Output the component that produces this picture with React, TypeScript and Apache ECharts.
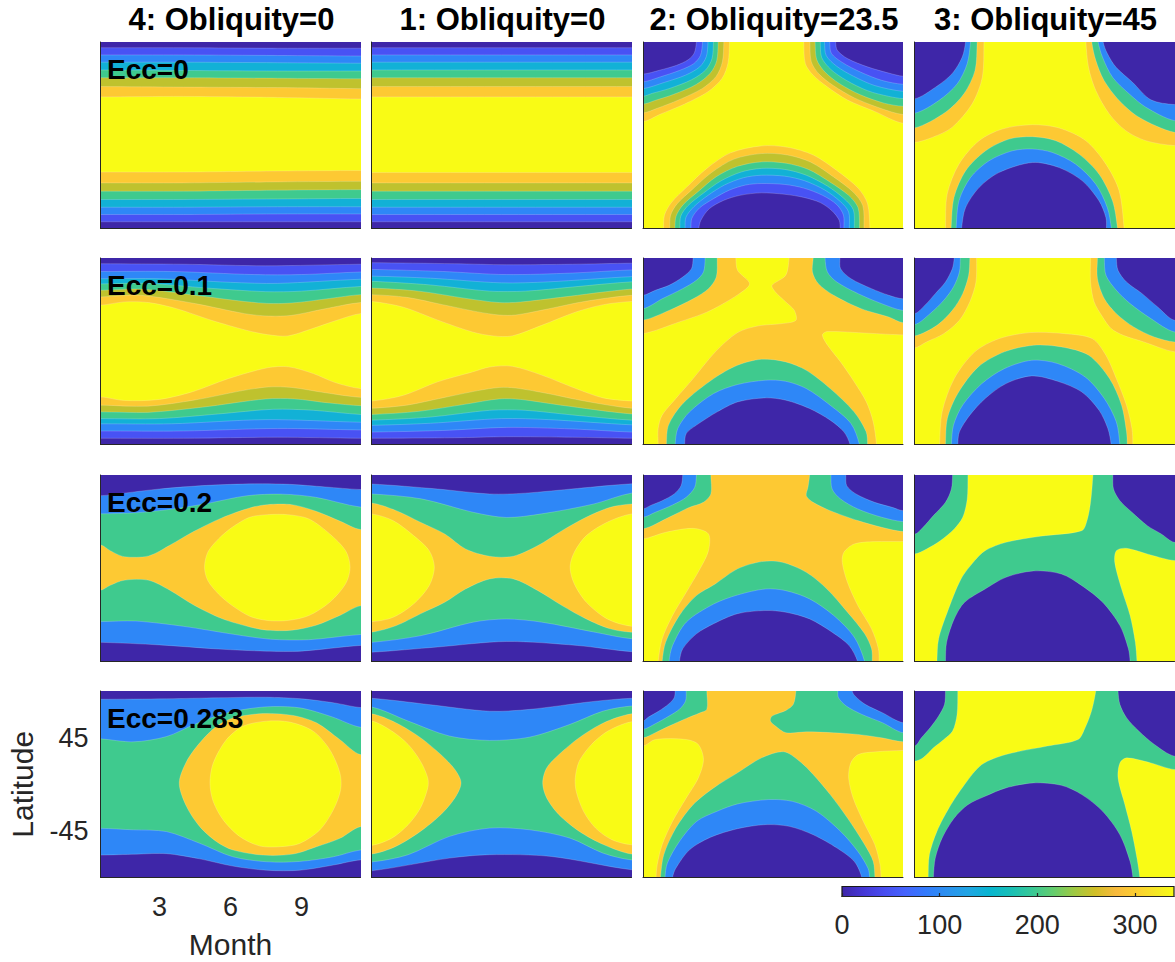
import React, { useEffect, useRef } from "react";
import * as echarts from "echarts";

type P = [number, number];

// ---------------- texts and ticks ----------------
const TITLES = ["4: Obliquity=0", "1: Obliquity=0", "2: Obliquity=23.5", "3: Obliquity=45"];
const ROW_LABELS = ["Ecc=0", "Ecc=0.1", "Ecc=0.2", "Ecc=0.283"];
const MONTH_TICKS = [3, 6, 9];
const LAT_TICKS = [45, -45];
const MONTH_RANGE: P = [0.5, 11.5];
const LAT_RANGE: P = [-90, 90];
const CBAR_RANGE: P = [0, 340];
const CBAR_STEP = 100;

// contour level -> fill colour (parula, caxis 0..340)
const LEVEL_COLORS: Record<number, string> = {
  0: "#3e26a8", 50: "#4852f4", 100: "#2e87f7", 150: "#12b1d6", 200: "#3fca8e",
  250: "#bfc22e", 300: "#fdc933", 350: "#f9fb15", 400: "#f9fb15",
};
const PARULA_STOPS: [number, string][] = [
  [0, "#3e26a8"], [0.0635, "#4537d5"], [0.127, "#484df0"], [0.19, "#4563fd"], [0.254, "#327bfc"],
  [0.317, "#2b91ef"], [0.381, "#20a5e3"], [0.444, "#08b5d0"], [0.508, "#19bfb6"], [0.571, "#37c897"],
  [0.635, "#63cd6f"], [0.698, "#9dc943"], [0.762, "#d1bf27"], [0.825, "#f8ba3d"], [0.889, "#fccf30"],
  [0.952, "#f5e924"], [1, "#f9fb15"],
];

// ---------------- contour boundaries [month, latitude] ----------------
// Row 1, col 1 (Ecc=0, model 4): upper / lower edges of each superlevel band
const r1c1_t50: P[] = [[0.5, 84.5], [4, 84.5], [8, 84], [11.5, 84]];
const r1c1_t100: P[] = [[0.5, 77.5], [4, 77.5], [8, 77], [11.5, 76.5]];
const r1c1_t150: P[] = [[0.5, 70.5], [4, 70.5], [8, 70], [11.5, 69.5]];
const r1c1_t200: P[] = [[0.5, 63], [4, 62.5], [8, 62], [11.5, 62]];
const r1c1_t250: P[] = [[0.5, 55.5], [4, 55.5], [8, 55], [11.5, 54.5]];
const r1c1_t300: P[] = [[0.5, 47], [4, 46.5], [8, 46], [11.5, 45]];
const r1c1_t350: P[] = [[0.5, 37], [4, 37.5], [8, 36.5], [11.5, 35]];
const r1c1_b50: P[] = [[0.5, -83.5], [4, -83.5], [8, -83.5], [11.5, -83.5]];
const r1c1_b100: P[] = [[0.5, -76.5], [4, -76.5], [8, -76], [11.5, -76]];
const r1c1_b150: P[] = [[0.5, -69.5], [4, -69.5], [8, -69], [11.5, -69]];
const r1c1_b200: P[] = [[0.5, -62], [4, -62], [8, -61.5], [11.5, -61]];
const r1c1_b250: P[] = [[0.5, -54], [4, -54], [8, -53], [11.5, -52.5]];
const r1c1_b300: P[] = [[0.5, -46], [4, -46], [8, -45], [11.5, -44.5]];
const r1c1_b350: P[] = [[0.5, -35.5], [4, -35.5], [8, -34.5], [11.5, -34]];

// Row 1, col 2 (Ecc=0, model 1)
const r1c2_t50: P[] = [[0.5, 84.5], [11.5, 84.5]];
const r1c2_t100: P[] = [[0.5, 77.5], [11.5, 77.5]];
const r1c2_t150: P[] = [[0.5, 70.5], [11.5, 70.5]];
const r1c2_t200: P[] = [[0.5, 63], [11.5, 63]];
const r1c2_t250: P[] = [[0.5, 55.5], [11.5, 55.5]];
const r1c2_t300: P[] = [[0.5, 47], [11.5, 47]];
const r1c2_t350: P[] = [[0.5, 37], [11.5, 37]];
const r1c2_b50: P[] = [[0.5, -83.5], [11.5, -83.5]];
const r1c2_b100: P[] = [[0.5, -76.5], [11.5, -76.5]];
const r1c2_b150: P[] = [[0.5, -69.5], [11.5, -69.5]];
const r1c2_b200: P[] = [[0.5, -62], [11.5, -62]];
const r1c2_b250: P[] = [[0.5, -54], [11.5, -54]];
const r1c2_b300: P[] = [[0.5, -46], [11.5, -46]];
const r1c2_b350: P[] = [[0.5, -36], [11.5, -36]];

// Row 1, col 3 (obliquity 23.5): top-left, top-right, bottom arch contours
const r1c3_tl350: P[] = [[4.16, 90], [4.1, 70], [3.85, 55], [3.25, 42], [2.25, 30], [1.2, 20], [0.5, 13]];
const r1c3_tl300: P[] = [[3.92, 90], [3.86, 71], [3.6, 57], [3.0, 45], [2.0, 34], [1.1, 26], [0.5, 21.5]];
const r1c3_tl250: P[] = [[3.68, 90], [3.62, 72], [3.35, 60], [2.75, 49], [1.8, 39.5], [1.0, 33.5], [0.5, 30]];
const r1c3_tl200: P[] = [[3.48, 90], [3.42, 74], [3.15, 63], [2.55, 53.5], [1.6, 45], [0.9, 40.5], [0.5, 37.6]];
const r1c3_tl150: P[] = [[3.25, 90], [3.18, 76], [2.9, 66], [2.3, 58], [1.4, 51], [0.5, 45]];
const r1c3_tl100: P[] = [[3.02, 90], [2.93, 77], [2.64, 69], [2.06, 62.7], [1.19, 56], [0.5, 51.5]];
const r1c3_tl50: P[] = [[2.76, 90], [2.67, 79.4], [2.42, 73], [1.92, 67.5], [1.19, 62.7], [0.5, 59]];
const r1c3_tr350: P[] = [[7.3, 90], [7.37, 69], [7.7, 58], [8.28, 47], [9.15, 34], [10.3, 23], [11.5, 11.5]];
const r1c3_tr300: P[] = [[7.56, 90], [7.62, 71], [7.95, 59], [8.55, 48], [9.45, 36], [10.55, 26], [11.5, 20]];
const r1c3_tr250: P[] = [[7.78, 90], [7.85, 73], [8.2, 61], [8.8, 50], [9.7, 39], [10.7, 31], [11.5, 28]];
const r1c3_tr200: P[] = [[8.0, 90], [8.06, 75], [8.45, 63.5], [9.1, 53], [10.0, 43], [10.9, 37.5], [11.5, 35.4]];
const r1c3_tr150: P[] = [[8.18, 90], [8.25, 77], [8.7, 66.5], [9.4, 57], [10.3, 48], [11.5, 42.4]];
const r1c3_tr100: P[] = [[8.4, 90], [8.47, 79], [8.95, 70], [9.7, 61], [10.6, 53], [11.5, 49.2]];
const r1c3_tr50: P[] = [[8.65, 90], [8.72, 82], [9.15, 74], [10.0, 66], [10.9, 60], [11.5, 57]];
const r1c3_ar350: P[] = [[1.37, -90], [1.41, -77], [1.7, -65], [2.35, -50], [3.2, -32], [4.2, -17], [5.5, -10.3], [6.6, -11.5], [7.7, -19], [8.7, -34], [9.6, -51], [10.0, -66], [10.1, -90]];
const r1c3_ar300: P[] = [[1.63, -90], [1.67, -77], [1.95, -66], [2.6, -52], [3.4, -36], [4.35, -23], [5.5, -17.7], [6.6, -19], [7.6, -26], [8.55, -40], [9.4, -55], [9.8, -68], [9.85, -90]];
const r1c3_ar250: P[] = [[1.85, -90], [1.9, -78], [2.2, -67], [2.85, -54], [3.6, -40], [4.5, -30], [5.5, -25.7], [6.55, -27], [7.5, -33], [8.4, -45], [9.2, -58], [9.6, -70], [9.66, -90]];
const r1c3_ar200: P[] = [[2.06, -90], [2.1, -78], [2.4, -68], [3.05, -56], [3.8, -44], [4.65, -35.5], [5.5, -32], [6.5, -33], [7.4, -38.5], [8.3, -49], [9.0, -61], [9.4, -72], [9.44, -90]];
const r1c3_ar150: P[] = [[2.28, -90], [2.32, -79], [2.65, -69], [3.25, -58], [3.95, -48], [4.75, -41], [5.5, -38.6], [6.5, -39.5], [7.35, -44], [8.2, -53], [8.85, -64], [9.2, -74], [9.23, -90]];
const r1c3_ar100: P[] = [[2.53, -90], [2.57, -80], [2.9, -70], [3.5, -61], [4.15, -53], [4.85, -48], [5.5, -46.6], [6.5, -47.5], [7.3, -51], [8.1, -58], [8.7, -67], [8.98, -77], [9.0, -90]];
const r1c3_ar50: P[] = [[2.86, -90], [2.95, -82], [3.3, -71], [3.9, -63], [4.6, -58], [5.5, -55.6], [6.5, -57], [7.3, -60], [8.0, -65], [8.5, -73], [8.8, -82], [8.84, -90]];

// Row 1, col 4 (obliquity 45)
const r1c4_tl400: P[] = [[3.44, 90], [3.37, 56], [2.94, 30.3], [2.09, 7.6], [1.25, -2.1], [0.5, -7]];
const r1c4_tl300: P[] = [[3.15, 90], [3.06, 62.6], [2.59, 40], [1.81, 22.2], [0.5, 7]];
const r1c4_tl200: P[] = [[2.87, 90], [2.73, 69.1], [2.31, 49.7], [1.53, 33.5], [0.5, 21.2]];
const r1c4_tl100: P[] = [[2.66, 90], [2.52, 75.5], [2.09, 59.4], [1.39, 46.4], [0.5, 35.1]];
const r1c4_tr400: P[] = [[7.75, 90], [7.86, 65.8], [8.17, 43.2], [8.74, 20.6], [9.44, 4.4], [10.29, -5.3], [11.5, -10]];
const r1c4_tr300: P[] = [[8.0, 90], [8.17, 72.3], [8.52, 52.9], [9.16, 33.5], [10.0, 17.3], [11.5, 2.8]];
const r1c4_tr200: P[] = [[8.27, 90], [8.45, 75.5], [8.88, 56], [9.58, 40], [10.29, 27], [11.5, 14.1]];
const r1c4_tr100: P[] = [[8.48, 90], [8.66, 78.8], [9.02, 65.8], [9.72, 51.2], [10.5, 34.2], [11.5, 29.6]];
const r1c4_ar400: P[] = [[1.81, -90], [1.88, -57], [2.38, -27.9], [3.23, -5.3], [4.21, 6], [5.49, 10.2], [6.62, 7], [7.75, -5.3], [8.6, -27.9], [9.16, -53.7], [9.37, -90]];
const r1c4_ar300: P[] = [[2.05, -90], [2.17, -60.2], [2.66, -34.4], [3.51, -15], [4.5, -3.7], [5.49, -1.4], [6.48, -5.3], [7.46, -18.2], [8.31, -37.6], [8.88, -63.4], [9.09, -90]];
const r1c4_ar200: P[] = [[2.26, -90], [2.38, -63.4], [2.87, -40.8], [3.65, -24.7], [4.64, -15], [5.49, -13.3], [6.33, -16.6], [7.32, -27.9], [8.17, -47.2], [8.66, -69.9], [8.83, -90]];
const r1c4_ar100: P[] = [[2.49, -90], [2.66, -69.9], [3.23, -50.5], [4.07, -36], [5.49, -26.3], [6.62, -31.2], [7.6, -44], [8.31, -63.4], [8.6, -79.6], [8.62, -90]];

// Row 2, col 1 (Ecc=0.1, model 4)
const r2c1_t50: P[] = [[0.5, 84.5], [4, 84], [7.5, 82.5], [11.5, 84]];
const r2c1_t100: P[] = [[0.5, 77], [3.5, 77], [7, 74], [9, 74], [11.5, 76.5]];
const r2c1_t150: P[] = [[0.5, 70], [3, 70], [6, 66.5], [8, 65.5], [11.5, 69.5]];
const r2c1_t200: P[] = [[0.5, 65], [2.5, 65.5], [5, 61], [7.5, 57.5], [9, 58], [11.5, 62.5]];
const r2c1_t250: P[] = [[0.5, 58.8], [2.2, 60], [4.5, 54], [6.6, 48], [7.8, 46], [8.8, 47], [10.2, 51], [11.5, 54.6]];
const r2c1_t300: P[] = [[0.5, 52.4], [2.2, 54], [4.5, 46], [6.6, 36.3], [7.6, 34], [8.6, 34.7], [10.0, 41], [11.5, 47]];
const r2c1_t350: P[] = [[0.5, 44.4], [1.5, 47.6], [2.54, 47], [3.72, 41.1], [5.19, 29.9], [6.66, 20.3], [7.55, 16.1], [8.43, 14.8], [9.47, 21.9], [10.5, 29.9], [11.5, 36.3]];
const r2c1_b350: P[] = [[0.5, -44], [1.5, -47.5], [3, -46.5], [4.4, -39], [5.9, -26.5], [7.55, -16], [8.45, -15], [9.5, -21.5], [10.4, -30], [11.5, -36]];
const r2c1_b300: P[] = [[0.5, -52], [2.5, -53], [4.5, -47], [6.5, -38], [7.6, -34.5], [8.6, -35], [10, -40], [11.5, -44.5]];
const r2c1_b250: P[] = [[0.5, -58.5], [2.5, -59], [4.8, -54], [7.5, -46], [8.7, -46], [10.2, -50], [11.5, -52.5]];
const r2c1_b200: P[] = [[0.5, -65], [3, -65], [5.5, -60.5], [7.8, -56], [9.5, -57], [11.5, -61]];
const r2c1_b150: P[] = [[0.5, -70], [3.5, -70], [7.5, -66], [11.5, -68.5]];
const r2c1_b100: P[] = [[0.5, -77], [4, -77], [8, -74.5], [11.5, -76]];
const r2c1_b50: P[] = [[0.5, -84], [4, -84], [8, -83], [11.5, -84]];

// Row 2, col 2 (Ecc=0.1, model 1)
const r2c2_t50: P[] = [[0.5, 85.5], [4, 84.5], [6.2, 83.5], [9, 84], [11.5, 85]];
const r2c2_t100: P[] = [[0.5, 79], [3.5, 77], [6.2, 74], [9, 75.5], [11.5, 78.5]];
const r2c2_t150: P[] = [[0.5, 72.5], [3, 70.5], [6, 66], [8, 67], [11.5, 72]];
const r2c2_t200: P[] = [[0.5, 67.5], [3, 64], [5.5, 58], [7, 58], [9, 62], [11.5, 67]];
const r2c2_t250: P[] = [[0.5, 61], [2.5, 58], [4.5, 51], [5.9, 47], [6.8, 47.5], [8.5, 52], [11.5, 60]];
const r2c2_t300: P[] = [[0.5, 54.6], [2.0, 52], [3.5, 45], [5.0, 38], [5.9, 35], [6.6, 35], [8.0, 41], [9.5, 48], [11.5, 54]];
const r2c2_t350: P[] = [[0.5, 48], [1.85, 42.5], [3.31, 30], [4.77, 18.6], [5.65, 14.8], [6.45, 14.8], [7.7, 25], [9.15, 37.9], [10.32, 45], [11.5, 48]];
const r2c2_b350: P[] = [[0.5, -48], [1.85, -42.5], [3.3, -29.5], [4.77, -20], [5.5, -15.2], [6.45, -14.5], [7.7, -23], [9.15, -36], [10.3, -45], [11.5, -48]];
const r2c2_b300: P[] = [[0.5, -55], [2, -52], [3.5, -45], [5, -38], [5.9, -35], [6.6, -35.5], [8, -41], [9.5, -48], [11.5, -55]];
const r2c2_b250: P[] = [[0.5, -61], [2.5, -58], [4.5, -51], [5.9, -46], [6.8, -46.5], [8.5, -52], [11.5, -60.5]];
const r2c2_b200: P[] = [[0.5, -66.5], [3, -63.5], [5.5, -57], [7, -57], [9, -61.5], [11.5, -66.5]];
const r2c2_b150: P[] = [[0.5, -71.5], [3, -69.5], [6, -65], [8, -66], [11.5, -71]];
const r2c2_b100: P[] = [[0.5, -78], [3.5, -76.5], [6.2, -73.5], [9, -75], [11.5, -78]];
const r2c2_b50: P[] = [[0.5, -84], [4, -83.5], [6.2, -82.5], [9, -83], [11.5, -84]];

// Row 2, col 3
const r2c3_tl100: P[] = [[2.62, 90], [2.55, 79.7], [2.18, 71.6], [1.6, 63.6], [1.02, 58.8], [0.5, 54]];
const r2c3_tl200: P[] = [[3.13, 90], [3.06, 76.5], [2.76, 68.5], [2.18, 60.4], [1.31, 50.6], [0.5, 41]];
const r2c3_tl300: P[] = [[3.64, 90], [3.6, 71.7], [3.27, 60.4], [2.62, 50.6], [1.6, 39.4], [0.5, 30]];
const r2c3_tr100: P[] = [[8.83, 90], [8.86, 79.7], [9.3, 70], [10.17, 60.4], [10.9, 54], [11.5, 50.6]];
const r2c3_tr200: P[] = [[8.2, 90], [8.3, 76.5], [8.7, 66.8], [9.6, 55.6], [10.6, 45.9], [11.5, 39.4]];
const r2c3_tr300: P[] = [[7.7, 90], [7.67, 76.5], [7.92, 65.2], [8.57, 54], [9.73, 41.1], [10.9, 33], [11.5, 27.6]];
const r2c3_ar100: P[] = [[2.26, -90], [2.33, -79.4], [2.76, -71.3], [3.64, -58.5], [4.5, -48.9], [5.67, -45], [6.54, -47.2], [7.55, -55.3], [8.42, -66.5], [9.0, -77.8], [9.26, -90]];
const r2c3_ar200: P[] = [[1.86, -90], [1.97, -74.6], [2.47, -58.5], [3.49, -40.8], [4.5, -32.1], [5.67, -28], [6.54, -29], [7.41, -36], [8.42, -52.1], [9.3, -69.8], [9.66, -90]];
const r2c3_ar300: P[] = [[1.49, -90], [1.58, -71.3], [2.19, -50.4], [3.49, -26.4], [4.5, -13.5], [5.52, -7.7], [6.54, -10.3], [7.41, -18.4], [8.42, -36], [9.43, -58.5], [9.94, -77.8], [10.0, -90]];
const r2c3_yA: P[] = [[4.43, 90], [4.5, 78.1], [5.01, 65.2], [4.58, 55.6], [3.64, 42.7], [3.05, 36.3], [2.04, 28.3], [0.5, 17]];
const r2c3_yB: P[] = [[1.14, -90], [1.14, -74.6], [1.31, -61.7], [1.89, -45.6], [2.62, -26.4], [3.56, -0.6], [4.5, 18], [5.38, 24.5], [6.39, 26.7], [6.97, 29.9], [6.9, 39.5], [6.54, 47.6], [6.1, 57.2], [5.96, 63.6], [6.54, 73.3], [6.68, 90]];
const r2c3_yR: P[] = [[11.5, 15.8], [10.02, 17.4], [8.3, 19], [8.09, 15.8], [8.31, 5.8], [8.86, -10.3], [9.44, -29.6], [9.95, -48.9], [10.24, -68.2], [10.38, -90]];

// Row 2, col 4
const r2c4_tl100: P[] = [[2.18, 90], [2.1, 79.7], [1.81, 66.8], [1.38, 55.6], [0.94, 44.4], [0.5, 36.3]];
const r2c4_tl200: P[] = [[2.44, 90], [2.4, 76.5], [2.15, 62], [1.74, 49.2], [1.16, 36.3], [0.5, 25.7]];
const r2c4_tl300: P[] = [[2.84, 90], [2.79, 73.3], [2.54, 55.6], [2.1, 39.5], [1.45, 25], [0.5, 14.8]];
const r2c4_tl400: P[] = [[3.13, 90], [3.1, 66.8], [2.84, 47.6], [2.4, 29.9], [1.74, 17], [1.01, 9], [0.5, 3.2]];
const r2c4_tr100: P[] = [[9.04, 90], [9.11, 78.1], [9.47, 66.8], [10.13, 55.6], [10.79, 42.7], [11.5, 29.9]];
const r2c4_tr200: P[] = [[8.53, 90], [8.6, 73.3], [9.04, 58.8], [9.62, 46], [10.5, 31.5], [11.5, 18.6]];
const r2c4_tr300: P[] = [[8.24, 90], [8.24, 70], [8.53, 50.8], [9.04, 36.3], [9.77, 23.5], [10.64, 13.8], [11.5, 9]];
const r2c4_tr400: P[] = [[7.95, 90], [7.95, 66.8], [8.1, 47.6], [8.46, 33], [8.82, 21.9], [9.33, 15.4], [10.2, 9], [11.5, -0.6]];
const r2c4_ar100: P[] = [[2.33, -90], [2.4, -77.8], [2.84, -61.7], [3.49, -45.6], [4.37, -31.2], [5.46, -23.8], [6.56, -29], [7.58, -39.3], [8.31, -57], [8.68, -74.6], [8.82, -90]];
const r2c4_ar200: P[] = [[2.06, -90], [2.15, -71.3], [2.54, -51.9], [3.35, -31.2], [4.3, -16.8], [5.46, -8.7], [6.56, -11.9], [7.72, -24.8], [8.53, -45.6], [9.04, -68.2], [9.19, -90]];
const r2c4_ar300: P[] = [[1.81, -90], [1.89, -64.9], [2.33, -40.8], [3.2, -15.1], [4.3, -0.6], [5.54, 5.8], [6.71, 4.2], [7.87, -3.9], [8.75, -26.4], [9.26, -52.1], [9.47, -77.8], [9.5, -90]];
const r2c4_ar400: P[] = [[1.56, -90], [1.67, -58.5], [2.18, -26.4], [3.05, -0.6], [4.08, 12.2], [5.38, 18], [6.85, 17], [8.02, 12.2], [8.6, -3.9], [9.04, -26.4], [9.47, -52.1], [9.7, -74.6], [9.74, -90]];

// Row 3, col 1 (Ecc=0.2, model 4)
const r3c1_t100: P[] = [[0.5, 70], [1.5, 72.5], [3, 76.5], [5, 80], [7, 81.5], [8.5, 81], [10, 78.5], [11.5, 76]];
const r3c1_t200: P[] = [[0.5, 52.5], [2, 53.5], [3.5, 57], [5, 62.5], [6.7, 70], [8.2, 71.5], [9.6, 68.5], [11.5, 59]];
const r3c1_t300: P[] = [[0.5, 22.5], [0.91, 17], [1.5, 11.2], [2.54, 11.9], [3.43, 22.2], [4.46, 35.7], [5.63, 48.6], [6.81, 58.2], [7.55, 61.4], [8.6, 61.4], [9.62, 55], [10.65, 45.3], [11.5, 37.3]];
const r3c1_b300: P[] = [[0.5, -21.2], [0.91, -16.5], [1.5, -11.6], [2.54, -11.6], [3.43, -21.2], [4.46, -35.7], [5.63, -48.6], [6.81, -56.6], [7.55, -59.8], [8.6, -59.8], [9.62, -55], [10.65, -45.3], [11.5, -36.3]];
const r3c1_b200: P[] = [[0.5, -51.5], [2, -51], [4, -56], [6.2, -64], [7.7, -68.5], [9.3, -69], [11.5, -64]];
const r3c1_b100: P[] = [[0.5, -71.5], [3, -74], [5.5, -78], [7.5, -80], [9, -80], [11.5, -74.5]];
const r3c1_y400: P[] = [[4.9, 1], [5.04, 15.5], [5.49, 28.3], [6.07, 39.5], [6.81, 49.2], [7.55, 51.7], [8.43, 51.7], [9.32, 47.6], [10.2, 33.1], [10.87, 17], [11.06, 1], [10.87, -15], [10.2, -32.8], [9.32, -45.6], [8.43, -50.4], [7.55, -50.4], [6.81, -46.3], [6.07, -36], [5.49, -24.8], [5.04, -11.9]];

// Row 3, col 2 (Ecc=0.2, model 1)
const r3c2_t100: P[] = [[0.5, 81.3], [3.3, 76.5], [5.5, 71.7], [7, 72.5], [9.2, 77], [11.5, 81.5]];
const r3c2_t200: P[] = [[0.5, 71.7], [2.6, 67], [4.8, 54], [6.2, 49], [7.7, 52.5], [9.9, 62], [11.5, 72.5]];
const r3c2_t300: P[] = [[0.5, 63], [1.55, 55.6], [2.57, 44.4], [3.6, 33.1], [4.48, 18.6], [5.5, 11.6], [6.5, 11.6], [7.54, 21.9], [8.56, 36.3], [9.58, 49.2], [10.6, 58.8], [11.5, 62]];
const r3c2_b300: P[] = [[0.5, -61.7], [1.55, -55.3], [2.57, -44], [3.6, -32.8], [4.48, -20], [5.5, -10.3], [6.5, -10.3], [7.54, -21.6], [8.56, -36], [9.58, -48.9], [10.6, -58.5], [11.5, -61.7]];
const r3c2_b200: P[] = [[0.5, -71.5], [2.6, -65], [4.8, -52], [6.2, -49], [7.7, -52], [9.9, -61.5], [11.5, -68]];
const r3c2_b100: P[] = [[0.5, -81], [3.3, -76], [6.2, -70.7], [9.2, -74.5], [11.5, -80.5]];
const r3c2_yL: P[] = [[0.5, 52.4], [1.41, 46], [2.28, 31.5], [2.94, 17], [3.16, 1], [2.94, -16.8], [2.28, -34.5], [1.41, -47.4], [0.5, -51.6]];
const r3c2_yR: P[] = [[11.5, 52.4], [10.47, 44.4], [9.59, 31.5], [9.08, 15.5], [8.9, 1], [9.08, -15.1], [9.59, -32.8], [10.47, -48.9], [11.5, -56]];

// Row 3, col 3
const r3c3_yL: P[] = [[0.5, 28.3], [1.46, 34.7], [2.62, 38.5], [3.27, 33.1], [3.27, 17], [2.91, -0.6], [2.33, -23.2], [1.75, -45.6], [1.31, -68.2], [1.14, -90]];
const r3c3_yR: P[] = [[11.5, 25.7], [10.31, 25.7], [9.44, 23.5], [9.0, 15.5], [8.93, 5.8], [9.15, -13.5], [9.59, -36], [10.17, -58.5], [10.46, -77.8], [10.49, -90]];
const r3c3_tl100: P[] = [[2.18, 90], [2.11, 79.7], [1.82, 71.7], [1.31, 65.2], [0.8, 60.4], [0.5, 57.2]];
const r3c3_tl200: P[] = [[2.76, 90], [2.69, 78.1], [2.33, 68.5], [1.75, 61.1], [1.02, 54], [0.5, 49.2]];
const r3c3_tl300: P[] = [[3.37, 90], [3.37, 71.7], [3.05, 63.6], [2.47, 58.8], [1.6, 49.2], [0.5, 38]];
const r3c3_tr100: P[] = [[9.08, 90], [9.12, 79.7], [9.51, 71.7], [10.3, 63.6], [11.04, 58.8], [11.5, 55.6]];
const r3c3_tr200: P[] = [[8.45, 90], [8.5, 76.5], [8.86, 66.8], [9.59, 57.2], [10.6, 49.2], [11.5, 45]];
const r3c3_tr300: P[] = [[7.55, 90], [7.48, 78.1], [7.41, 70], [7.7, 63.6], [8.42, 55.6], [9.59, 46], [10.6, 39.5], [11.5, 35.4]];
const r3c3_ar100: P[] = [[2.04, -90], [2.18, -77.8], [2.76, -63.3], [3.49, -53.5], [4.5, -43.8], [5.67, -40.8], [6.54, -42.4], [7.55, -48.9], [8.5, -61.7], [9.22, -74.6], [9.58, -90]];
const r3c3_ar200: P[] = [[1.6, -90], [1.75, -74.6], [2.33, -52], [3.49, -34.5], [4.5, -25.8], [5.67, -20], [6.54, -21.6], [7.55, -29.6], [8.57, -45.6], [9.44, -66.5], [9.88, -90]];
const r3c3_ar300: P[] = [[1.31, -90], [1.46, -71.3], [2.04, -45.6], [2.76, -26.4], [3.56, -15.1], [4.5, -0.6], [5.52, 6.4], [6.39, 5.8], [7.41, -3.9], [8.28, -20], [9.15, -42.4], [9.88, -63.3], [10.17, -77.8], [10.2, -90]];

// Row 3, col 4 (levels 0 / 200 / 400)
const r3c4_tl: P[] = [[2.11, 90], [2.06, 76.5], [1.81, 63.6], [1.3, 50.8], [0.86, 39.5], [0.5, 32.8]];
const r3c4_tr: P[] = [[8.89, 90], [8.92, 76.5], [9.19, 65.2], [9.7, 54], [10.35, 41.1], [10.94, 33.1], [11.5, 25]];
const r3c4_ar: P[] = [[1.81, -90], [1.86, -71.3], [2.18, -48.9], [2.62, -32.8], [3.49, -20], [4.37, -8.7], [5.54, -2.6], [6.71, -5.5], [7.58, -16.8], [8.46, -32.8], [9.19, -55.3], [9.55, -77.8], [9.62, -90]];
const r3c4_yA: P[] = [[2.76, 90], [2.73, 66.8], [2.54, 49.2], [2.18, 38], [1.6, 26.7], [1.01, 18.6], [0.5, 13.8]];
const r3c4_yB: P[] = [[1.45, -90], [1.52, -68.2], [1.89, -42.4], [2.47, -10.3], [3.05, 7.4], [3.49, 17], [4.37, 25], [5.83, 30.9], [7.58, 36.3], [7.8, 46], [7.95, 63.6], [8.05, 90]];
const r3c4_yR: P[] = [[11.5, 7.4], [10.5, 12.8], [9.47, 19.3], [9.04, 17], [8.97, 5.8], [9.26, -19.9], [9.62, -45.6], [9.84, -71.3], [9.91, -90]];

// Row 4, col 1 (Ecc=0.283, model 4)
const r4c1_t100: P[] = [[0.5, 82], [3.3, 82.5], [5.5, 83.5], [7.5, 84], [9, 82.5], [10.4, 78.5], [11.5, 74]];
const r4c1_t200: P[] = [[0.5, 43.8], [1.88, 40.9], [3.29, 46], [4.5, 58], [5.7, 68], [6.8, 73], [7.8, 75], [9.0, 73.5], [10.3, 65], [11.5, 55]];
const r4c1_b200: P[] = [[0.5, -42.5], [1.88, -44], [3.29, -45.7], [4.7, -57], [6.1, -70], [7.52, -74.8], [8.93, -74.5], [10.35, -70], [11.5, -63.5]];
const r4c1_b100: P[] = [[0.5, -68.4], [2, -67.5], [3.29, -67], [4.7, -72], [6.1, -79], [7.52, -83], [8.93, -83], [10.35, -78], [11.5, -73]];
const r4c1_o300: P[] = [[11.5, 28.6], [10.63, 43], [9.64, 59.3], [8.65, 66.4], [7.38, 68.3], [6.11, 64], [5.41, 56], [4.7, 40], [4.14, 22], [3.83, 1], [4.14, -21.5], [4.7, -40.9], [5.41, -55.4], [6.11, -63.5], [7.38, -68.4], [8.65, -67.4], [9.64, -60.3], [10.63, -52.2], [11.5, -40.9]];
const r4c1_y400: P[] = [[5.13, 1], [5.27, 20.5], [5.83, 43.1], [6.54, 56.1], [7.52, 60.9], [8.51, 60], [9.5, 51.2], [10.2, 33.4], [10.63, 10.8], [10.66, -5.3], [10.35, -24.7], [9.78, -44.1], [8.93, -57.1], [8.09, -60.3], [7.24, -59.6], [6.4, -50.6], [5.69, -34.4], [5.27, -16.7]];

// Row 4, col 2 (Ecc=0.283, model 1)
const r4c2_t100: P[] = [[0.5, 83], [2.9, 77], [5.5, 70.5], [7.2, 72.3], [9.8, 79.7], [11.5, 83]];
const r4c2_t200: P[] = [[0.5, 74.5], [2.05, 61], [3.8, 46.5], [5.5, 42.3], [7.2, 45.5], [8.9, 57.8], [10.3, 70.6], [11.5, 75.5]];
const r4c2_b200: P[] = [[0.5, -75], [2.05, -68], [3.8, -50.3], [5.5, -42.3], [7.2, -44], [8.9, -52], [10.3, -66.5], [11.5, -73]];
const r4c2_b100: P[] = [[0.5, -83.5], [3.8, -71.3], [5.5, -68], [8.1, -69.7], [11.5, -82.5]];
const r4c2_o300L: P[] = [[0.5, 68], [1.53, 59.4], [2.57, 45], [3.43, 28.7], [4.03, 14.2], [4.29, 1.3], [4.03, -13.2], [3.43, -29.4], [2.57, -45.5], [1.53, -60], [0.5, -67.4]];
const r4c2_o300R: P[] = [[11.5, 68], [10.33, 59.4], [9.29, 45], [8.43, 28.7], [7.91, 15.8], [7.74, 1.3], [7.91, -13.2], [8.43, -29.4], [9.29, -45.5], [10.33, -58.4], [11.5, -67.4]];
const r4c2_y400L: P[] = [[0.5, 61], [1.36, 51.3], [2.05, 38.4], [2.57, 22.3], [2.88, 6.1], [2.88, -3.5], [2.57, -22.9], [2.05, -39], [1.36, -52], [0.5, -59]];
const r4c2_y400R: P[] = [[11.5, 60.3], [10.5, 51.3], [9.81, 38.4], [9.29, 22.3], [9.12, 6.1], [9.16, -6.8], [9.47, -26.1], [9.98, -42.3], [10.67, -53.5], [11.5, -58.4]];

// Row 4, col 3
const r4c3_tl100: P[] = [[1.86, 90], [1.82, 83.5], [1.6, 77.7], [1.17, 70.6], [0.73, 64.8], [0.5, 61]];
const r4c3_tl200: P[] = [[2.33, 90], [2.3, 80.3], [2.04, 72.3], [1.6, 65.8], [1.02, 58.4], [0.5, 53]];
const r4c3_tl300: P[] = [[3.2, 90], [3.2, 72.3], [2.91, 68.9], [2.33, 63.5], [1.6, 56.1], [1.02, 49.7], [0.5, 44.8]];
const r4c3_tr300: P[] = [[6.97, 90], [6.86, 77.1], [6.55, 71.3], [5.96, 65.8], [5.89, 61], [6.11, 56.1], [6.55, 49.7], [7.41, 50.6], [8.57, 49.7], [9.59, 48.1], [10.6, 44.8], [11.5, 41]];
const r4c3_tr200: P[] = [[8.74, 90], [8.77, 83.5], [9.1, 75.5], [9.76, 67.4], [10.63, 59.4], [11.5, 49.7]];
const r4c3_tr100: P[] = [[9.35, 90], [9.47, 85.2], [9.9, 77.1], [10.63, 69], [11.5, 59.4]];
const r4c3_ar100: P[] = [[1.75, -90], [1.89, -81], [2.47, -63.2], [3.34, -51.3], [4.5, -42.9], [5.67, -39], [6.68, -40.6], [7.7, -48.7], [8.71, -61.6], [9.44, -74.5], [9.76, -90]];
const r4c3_ar200: P[] = [[1.43, -90], [1.53, -76.1], [2.04, -55.2], [2.77, -35.8], [3.63, -26.1], [4.5, -19], [5.8, -14.8], [6.82, -16.5], [7.84, -26.1], [8.86, -45.5], [9.59, -64.8], [10.02, -81], [10.09, -90]];
const r4c3_ar300: P[] = [[1.24, -90], [1.38, -68.1], [1.89, -42.3], [2.62, -19.7], [3.49, -3.5], [4.5, 11], [5.52, 25.5], [6.46, 31.3], [7.12, 22.3], [7.7, 9.4], [8.42, -10], [9.15, -32.6], [9.88, -58.4], [10.24, -74.5], [10.31, -90]];
const r4c3_yL: P[] = [[0.5, 36.8], [1.02, 43.2], [2.33, 43.2], [2.84, 38.4], [3.06, 23.9], [2.84, 6.1], [2.33, -13.2], [1.75, -35.8], [1.31, -58.4], [1.1, -77.7], [1.05, -90]];
const r4c3_yR: P[] = [[11.5, 32.6], [10.34, 31.3], [9.61, 28.7], [9.29, 20.6], [9.2, 6.1], [9.39, -13.2], [9.82, -35.8], [10.31, -58.4], [10.53, -77.7], [10.57, -90]];

// Row 4, col 4 (levels 0 / 200 / 400)
const r4c4_tl: P[] = [[1.81, 90], [1.77, 77.1], [1.52, 65.8], [1.16, 54.5], [0.79, 44.8], [0.5, 36.8]];
const r4c4_tr: P[] = [[9.11, 90], [9.19, 77.1], [9.47, 64.2], [9.99, 51.3], [10.65, 38.4], [11.5, 27.1]];
const r4c4_ar: P[] = [[1.3, -90], [1.38, -71.3], [1.67, -51.9], [2.18, -32.6], [2.76, -19.7], [3.49, -11.6], [4.37, -3.5], [5.54, 1.3], [6.71, -1], [7.58, -10], [8.46, -26.1], [9.19, -48.7], [9.62, -74.5], [9.74, -90]];
const r4c4_yA: P[] = [[2.33, 90], [2.3, 67.4], [2.11, 51.3], [1.74, 43.2], [1.3, 35.2], [0.86, 25.5], [0.5, 22.3]];
const r4c4_yB: P[] = [[1.08, -90], [1.13, -68.1], [1.45, -45.5], [1.96, -22.9], [2.62, -0.3], [3.35, 19], [4.37, 28.7], [6.12, 36.8], [7.42, 43.2], [7.72, 54.5], [7.99, 70.6], [8.17, 90]];
const r4c4_yR: P[] = [[11.5, 14.2], [10.5, 20.6], [9.48, 25.5], [9.19, 20.6], [9.11, 6.1], [9.4, -19.7], [9.69, -45.5], [9.91, -71.3], [10.03, -90]];

// ---------------- polygon closing helpers (outside the plot, clipped) ----------------
const X0 = -1, X1 = 13, YT = 100, YB = -100;
const last = (c: P[]) => c[c.length - 1];
const band = (t: P[], b: P[]): P[] => [[X0, t[0][1]], ...t, [X1, last(t)[1]], [X1, last(b)[1]], ...[...b].reverse(), [X0, b[0][1]]];
const tl = (c: P[]): P[] => [[c[0][0], YT], ...c, [X0, last(c)[1]], [X0, YT]];
const tr = (c: P[]): P[] => [[c[0][0], YT], ...c, [X1, last(c)[1]], [X1, YT]];
const arch = (c: P[]): P[] => [[c[0][0], YB], ...c, [last(c)[0], YB]];
const bl = (c: P[]): P[] => [[X0, c[0][1]], ...c, [last(c)[0], YB], [X0, YB]];
const br = (c: P[]): P[] => [[X1, c[0][1]], ...c, [last(c)[0], YB], [X1, YB]];
const lblob = (c: P[]): P[] => [[X0, c[0][1]], ...c, [X0, last(c)[1]]];
const rblob = (c: P[]): P[] => [[X1, c[0][1]], ...c, [X1, last(c)[1]]];
const leftBig = (a: P[], b: P[]): P[] => [[a[0][0], YT], ...a, [X0, last(a)[1]], [X0, YB], [b[0][0], YB], ...b, [last(b)[0], YT]];
const FULL: P[] = [[X0, YT], [X1, YT], [X1, YB], [X0, YB]];

type Layer = { lv: number; polys: P[][] };
type Panel = { bg: number; layers: Layer[] };

const PANELS: Panel[] = [
  { bg: 0, layers: [
    { lv: 50, polys: [band(r1c1_t50, r1c1_b50)] }, { lv: 100, polys: [band(r1c1_t100, r1c1_b100)] },
    { lv: 150, polys: [band(r1c1_t150, r1c1_b150)] }, { lv: 200, polys: [band(r1c1_t200, r1c1_b200)] },
    { lv: 250, polys: [band(r1c1_t250, r1c1_b250)] }, { lv: 300, polys: [band(r1c1_t300, r1c1_b300)] },
    { lv: 350, polys: [band(r1c1_t350, r1c1_b350)] } ] },
  { bg: 0, layers: [
    { lv: 50, polys: [band(r1c2_t50, r1c2_b50)] }, { lv: 100, polys: [band(r1c2_t100, r1c2_b100)] },
    { lv: 150, polys: [band(r1c2_t150, r1c2_b150)] }, { lv: 200, polys: [band(r1c2_t200, r1c2_b200)] },
    { lv: 250, polys: [band(r1c2_t250, r1c2_b250)] }, { lv: 300, polys: [band(r1c2_t300, r1c2_b300)] },
    { lv: 350, polys: [band(r1c2_t350, r1c2_b350)] } ] },
  { bg: 350, layers: [
    { lv: 300, polys: [tl(r1c3_tl350), tr(r1c3_tr350), arch(r1c3_ar350)] },
    { lv: 250, polys: [tl(r1c3_tl300), tr(r1c3_tr300), arch(r1c3_ar300)] },
    { lv: 200, polys: [tl(r1c3_tl250), tr(r1c3_tr250), arch(r1c3_ar250)] },
    { lv: 150, polys: [tl(r1c3_tl200), tr(r1c3_tr200), arch(r1c3_ar200)] },
    { lv: 100, polys: [tl(r1c3_tl150), tr(r1c3_tr150), arch(r1c3_ar150)] },
    { lv: 50, polys: [tl(r1c3_tl100), tr(r1c3_tr100), arch(r1c3_ar100)] },
    { lv: 0, polys: [tl(r1c3_tl50), tr(r1c3_tr50), arch(r1c3_ar50)] } ] },
  { bg: 400, layers: [
    { lv: 300, polys: [tl(r1c4_tl400), tr(r1c4_tr400), arch(r1c4_ar400)] },
    { lv: 200, polys: [tl(r1c4_tl300), tr(r1c4_tr300), arch(r1c4_ar300)] },
    { lv: 100, polys: [tl(r1c4_tl200), tr(r1c4_tr200), arch(r1c4_ar200)] },
    { lv: 0, polys: [tl(r1c4_tl100), tr(r1c4_tr100), arch(r1c4_ar100)] } ] },
  { bg: 0, layers: [
    { lv: 50, polys: [band(r2c1_t50, r2c1_b50)] }, { lv: 100, polys: [band(r2c1_t100, r2c1_b100)] },
    { lv: 150, polys: [band(r2c1_t150, r2c1_b150)] }, { lv: 200, polys: [band(r2c1_t200, r2c1_b200)] },
    { lv: 250, polys: [band(r2c1_t250, r2c1_b250)] }, { lv: 300, polys: [band(r2c1_t300, r2c1_b300)] },
    { lv: 350, polys: [band(r2c1_t350, r2c1_b350)] } ] },
  { bg: 0, layers: [
    { lv: 50, polys: [band(r2c2_t50, r2c2_b50)] }, { lv: 100, polys: [band(r2c2_t100, r2c2_b100)] },
    { lv: 150, polys: [band(r2c2_t150, r2c2_b150)] }, { lv: 200, polys: [band(r2c2_t200, r2c2_b200)] },
    { lv: 250, polys: [band(r2c2_t250, r2c2_b250)] }, { lv: 300, polys: [band(r2c2_t300, r2c2_b300)] },
    { lv: 350, polys: [band(r2c2_t350, r2c2_b350)] } ] },
  { bg: 300, layers: [
    { lv: 400, polys: [leftBig(r2c3_yA, r2c3_yB), br(r2c3_yR)] },
    { lv: 200, polys: [tl(r2c3_tl300), tr(r2c3_tr300), arch(r2c3_ar300)] },
    { lv: 100, polys: [tl(r2c3_tl200), tr(r2c3_tr200), arch(r2c3_ar200)] },
    { lv: 0, polys: [tl(r2c3_tl100), tr(r2c3_tr100), arch(r2c3_ar100)] } ] },
  { bg: 400, layers: [
    { lv: 300, polys: [tl(r2c4_tl400), tr(r2c4_tr400), arch(r2c4_ar400)] },
    { lv: 200, polys: [tl(r2c4_tl300), tr(r2c4_tr300), arch(r2c4_ar300)] },
    { lv: 100, polys: [tl(r2c4_tl200), tr(r2c4_tr200), arch(r2c4_ar200)] },
    { lv: 0, polys: [tl(r2c4_tl100), tr(r2c4_tr100), arch(r2c4_ar100)] } ] },
  { bg: 0, layers: [
    { lv: 100, polys: [band(r3c1_t100, r3c1_b100)] }, { lv: 200, polys: [band(r3c1_t200, r3c1_b200)] },
    { lv: 300, polys: [band(r3c1_t300, r3c1_b300)] }, { lv: 400, polys: [r3c1_y400] } ] },
  { bg: 0, layers: [
    { lv: 100, polys: [band(r3c2_t100, r3c2_b100)] }, { lv: 200, polys: [band(r3c2_t200, r3c2_b200)] },
    { lv: 300, polys: [band(r3c2_t300, r3c2_b300)] }, { lv: 400, polys: [lblob(r3c2_yL), rblob(r3c2_yR)] } ] },
  { bg: 300, layers: [
    { lv: 400, polys: [bl(r3c3_yL), br(r3c3_yR)] },
    { lv: 200, polys: [tl(r3c3_tl300), tr(r3c3_tr300), arch(r3c3_ar300)] },
    { lv: 100, polys: [tl(r3c3_tl200), tr(r3c3_tr200), arch(r3c3_ar200)] },
    { lv: 0, polys: [tl(r3c3_tl100), tr(r3c3_tr100), arch(r3c3_ar100)] } ] },
  { bg: 200, layers: [
    { lv: 400, polys: [leftBig(r3c4_yA, r3c4_yB), br(r3c4_yR)] },
    { lv: 0, polys: [tl(r3c4_tl), tr(r3c4_tr), arch(r3c4_ar)] } ] },
  { bg: 0, layers: [
    { lv: 100, polys: [band(r4c1_t100, r4c1_b100)] }, { lv: 200, polys: [band(r4c1_t200, r4c1_b200)] },
    { lv: 300, polys: [rblob(r4c1_o300)] }, { lv: 400, polys: [r4c1_y400] } ] },
  { bg: 0, layers: [
    { lv: 100, polys: [band(r4c2_t100, r4c2_b100)] }, { lv: 200, polys: [band(r4c2_t200, r4c2_b200)] },
    { lv: 300, polys: [lblob(r4c2_o300L), rblob(r4c2_o300R)] },
    { lv: 400, polys: [lblob(r4c2_y400L), rblob(r4c2_y400R)] } ] },
  { bg: 300, layers: [
    { lv: 400, polys: [bl(r4c3_yL), br(r4c3_yR)] },
    { lv: 200, polys: [tl(r4c3_tl300), tr(r4c3_tr300), arch(r4c3_ar300)] },
    { lv: 100, polys: [tl(r4c3_tl200), tr(r4c3_tr200), arch(r4c3_ar200)] },
    { lv: 0, polys: [tl(r4c3_tl100), tr(r4c3_tr100), arch(r4c3_ar100)] } ] },
  { bg: 200, layers: [
    { lv: 400, polys: [leftBig(r4c4_yA, r4c4_yB), br(r4c4_yR)] },
    { lv: 0, polys: [tl(r4c4_tl), tr(r4c4_tr), arch(r4c4_ar)] } ] },
];

// ---------------- layout ----------------
const COL_LEFT = [100.5, 371.5, 643, 914.5];
const ROW_TOP = [42, 258, 475, 691];
const PW = 260;
const PH = 186.5;
const FONT = "Liberation Sans, Arial, Helvetica, sans-serif";
const AX = "#262626";

function buildOption() {
  const grid: any[] = [];
  const xAxis: any[] = [];
  const yAxis: any[] = [];
  const series: any[] = [];

  PANELS.forEach((panel, i) => {
    const r = Math.floor(i / 4);
    const c = i % 4;
    const showLabels = r === 3 && c === 0;
    grid.push({ left: COL_LEFT[c], top: ROW_TOP[r], width: PW, height: PH });
    xAxis.push({
      gridIndex: i, type: "value", min: MONTH_RANGE[0], max: MONTH_RANGE[1], z: 5,
      axisLine: { show: true, onZero: false, lineStyle: { color: AX, width: 1 } },
      axisTick: { show: false }, splitLine: { show: false },
      axisLabel: showLabels
        ? { show: true, customValues: MONTH_TICKS, fontSize: 27, fontFamily: FONT, color: AX, margin: 16 }
        : { show: false },
    });
    yAxis.push({
      gridIndex: i, type: "value", min: LAT_RANGE[0], max: LAT_RANGE[1], z: 5,
      axisLine: { show: true, onZero: false, lineStyle: { color: AX, width: 1 } },
      axisTick: { show: false }, splitLine: { show: false },
      axisLabel: showLabels
        ? { show: true, customValues: LAT_TICKS, fontSize: 27, fontFamily: FONT, color: AX, margin: 12 }
        : { show: false },
    });
    series.push({
      type: "custom", xAxisIndex: i, yAxisIndex: i, clip: true, silent: true,
      data: [[MONTH_RANGE[0], LAT_RANGE[0]]],
      renderItem: (_params: any, api: any) => {
        const px = (poly: P[]) => poly.map((p) => api.coord(p));
        const children: any[] = [
          { type: "polygon", shape: { points: px(FULL) }, style: { fill: LEVEL_COLORS[panel.bg] } },
        ];
        panel.layers.forEach((layer) => {
          layer.polys.forEach((poly) => {
            children.push({
              type: "polygon",
              shape: { points: px(poly), smooth: 0.3 },
              style: { fill: LEVEL_COLORS[layer.lv], stroke: "rgba(255,255,255,0.28)", lineWidth: 0.7 },
            });
          });
        });
        return { type: "group", children };
      },
    });
  });

  // colour bar
  const cb = PANELS.length;
  grid.push({ left: 842, top: 886.5, width: 332, height: 10 });
  xAxis.push({
    gridIndex: cb, type: "value", min: CBAR_RANGE[0], max: CBAR_RANGE[1], interval: CBAR_STEP, z: 5,
    axisLine: { show: true, onZero: false, lineStyle: { color: AX, width: 1 } },
    axisTick: { show: true, inside: true, length: 3.5, lineStyle: { color: AX, width: 1.2 } },
    splitLine: { show: false },
    axisLabel: { show: true, fontSize: 27, fontFamily: FONT, color: AX, margin: 15, showMaxLabel: false },
  });
  yAxis.push({ gridIndex: cb, type: "value", min: 0, max: 1, show: false });
  series.push({
    type: "custom", xAxisIndex: cb, yAxisIndex: cb, silent: true,
    data: [[CBAR_RANGE[0], 0]],
    renderItem: (_p: any, api: any) => {
      const a = api.coord([CBAR_RANGE[0], 0]);
      const b = api.coord([CBAR_RANGE[1], 1]);
      return {
        type: "rect",
        shape: { x: a[0], y: b[1], width: b[0] - a[0], height: a[1] - b[1] },
        style: {
          fill: new echarts.graphic.LinearGradient(0, 0, 1, 0, PARULA_STOPS.map(([o, col]) => ({ offset: o, color: col }))),
          stroke: "#1a1a1a", lineWidth: 1.2,
        },
      };
    },
  });

  const texts: any[] = [];
  TITLES.forEach((t, c) => {
    texts.push({
      type: "text", x: COL_LEFT[c] + PW / 2 + 1, y: 19, z: 100,
      style: { text: t, font: `bold 31px ${FONT}`, fill: "#000", align: "center", verticalAlign: "middle", textAlign: "center", textVerticalAlign: "middle" },
    });
  });
  ROW_LABELS.forEach((t, r) => {
    texts.push({
      type: "text", x: 107, y: ROW_TOP[r] + 27, z: 100,
      style: { text: t, font: `bold 28px ${FONT}`, fill: "#000", align: "left", verticalAlign: "middle", textAlign: "left", textVerticalAlign: "middle" },
    });
  });
  texts.push({
    type: "text", x: COL_LEFT[0] + PW / 2, y: 944, z: 100,
    style: { text: "Month", font: `30px ${FONT}`, fill: AX, align: "center", verticalAlign: "middle", textAlign: "center", textVerticalAlign: "middle" },
  });
  texts.push({
    type: "text", x: 22, y: ROW_TOP[3] + PH / 2, rotation: Math.PI / 2, z: 100,
    style: { text: "Latitude", font: `30px ${FONT}`, fill: AX, align: "center", verticalAlign: "middle", textAlign: "center", textVerticalAlign: "middle" },
  });

  return {
    animation: false,
    backgroundColor: "#ffffff",
    textStyle: { fontFamily: FONT },
    grid, xAxis, yAxis, series,
    graphic: { elements: texts },
  };
}

export default function App() {
  const ref = useRef<HTMLDivElement>(null);
  useEffect(() => {
    if (!ref.current) return;
    const chart = echarts.init(ref.current, undefined, { renderer: "svg" });
    chart.setOption(buildOption() as any);
    return () => chart.dispose();
  }, []);
  return (
    <div
      ref={ref}
      style={{ position: "absolute", left: 0, top: 0, width: 1175, height: 962, background: "#fff" }}
    />
  );
}
